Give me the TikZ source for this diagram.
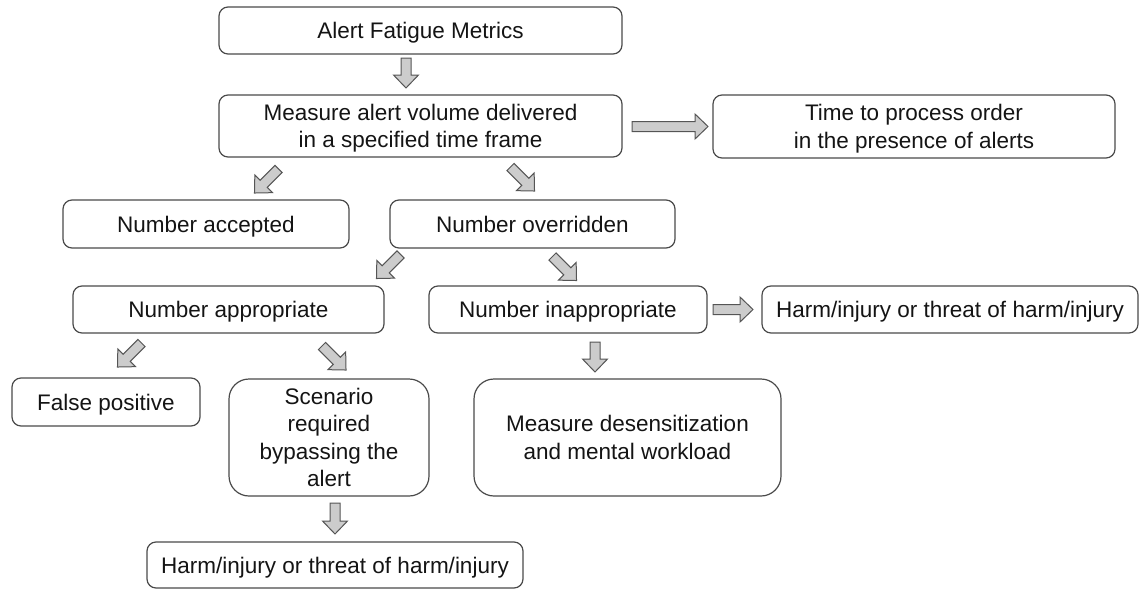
\documentclass[tikz,border=0pt]{standalone}
\usepackage{fontspec}
\setmainfont{Liberation Sans}
\definecolor{boxline}{HTML}{4A4A4A}
\definecolor{arrowfill}{HTML}{CCCCCC}
\definecolor{arrowline}{HTML}{555555}
\tikzset{
  box/.style={draw=boxline, line width=1.2pt, rounded corners=9pt,
    align=center, inner sep=0pt, text=black!92, text depth=0pt,
    font=\fontsize{22.5}{27.5}\selectfont},
  bigbox/.style={box, rounded corners=20pt},
  arrowbody/.style={draw=arrowline, fill=arrowfill, line width=1pt, line join=miter},
  % block arrow pointing along +x, centred on the origin; #1 = length
  barrow/.pic={
    \draw[arrowbody] ({-(#1)/2},-5) -- ({(#1)/2-13},-5) -- ({(#1)/2-13},-12.5)
      -- ({(#1)/2},0) -- ({(#1)/2-13},12.5) -- ({(#1)/2-13},5) -- ({-(#1)/2},5) -- cycle;
  },
}
\begin{document}
\begin{tikzpicture}[x=1pt, y=-1pt]
\useasboundingbox (0,0) rectangle (1140,589);

% boxes
\node[box, minimum width=403, minimum height=47] (fatigue) at (420.5,30.5) {Alert Fatigue Metrics};
\node[box, minimum width=403, minimum height=62] (volume) at (420.5,126) {Measure alert volume delivered\\in a specified time frame};
\node[box, minimum width=402, minimum height=63] (time) at (914,126.5) {Time to process order\\in the presence of alerts};
\node[box, minimum width=286, minimum height=48] (accepted) at (206,224) {Number accepted};
\node[box, minimum width=285, minimum height=48] (overridden) at (532.5,224) {Number overridden};
\node[box, minimum width=311, minimum height=47] (appropriate) at (228.5,309.5) {Number appropriate};
\node[box, minimum width=278, minimum height=47] (inappropriate) at (568,309.5) {Number inappropriate};
\node[box, minimum width=376, minimum height=47] (harmA) at (950,309.5) {Harm/injury or threat of harm/injury};
\node[box, minimum width=188, minimum height=48] (falsepos) at (106,402) {False positive};
\node[bigbox, minimum width=200, minimum height=117] (scenario) at (329,437.5) {Scenario\\required\\bypassing the\\alert};
\node[bigbox, minimum width=307, minimum height=117] (desens) at (627.5,437.5) {Measure desensitization\\and mental workload};
\node[box, minimum width=376, minimum height=46] (harmB) at (335,565) {Harm/injury or threat of harm/injury};

% block arrows between the boxes
\pic[rotate=-90]  at (406,73)      {barrow=30};  % fatigue -> volume
\pic               at (670,126.5)  {barrow=76};  % volume -> time
\pic[rotate=-135] at (266.5,181)   {barrow=34};  % volume -> accepted
\pic[rotate=-45]  at (522.5,179)   {barrow=34};  % volume -> overridden
\pic[rotate=-135] at (388.5,266.5) {barrow=34};  % overridden -> appropriate
\pic[rotate=-45]  at (564.5,268.5) {barrow=34};  % overridden -> inappropriate
\pic               at (733,309.5)  {barrow=40};  % inappropriate -> harmA
\pic[rotate=-90]  at (595,357)     {barrow=30};  % inappropriate -> desens
\pic[rotate=-135] at (129.5,355)   {barrow=34};  % appropriate -> falsepos
\pic[rotate=-45]  at (334,358)     {barrow=34};  % appropriate -> scenario
\pic[rotate=-90]  at (335,518.5)   {barrow=31};  % scenario -> harmB
\end{tikzpicture}
\end{document}
